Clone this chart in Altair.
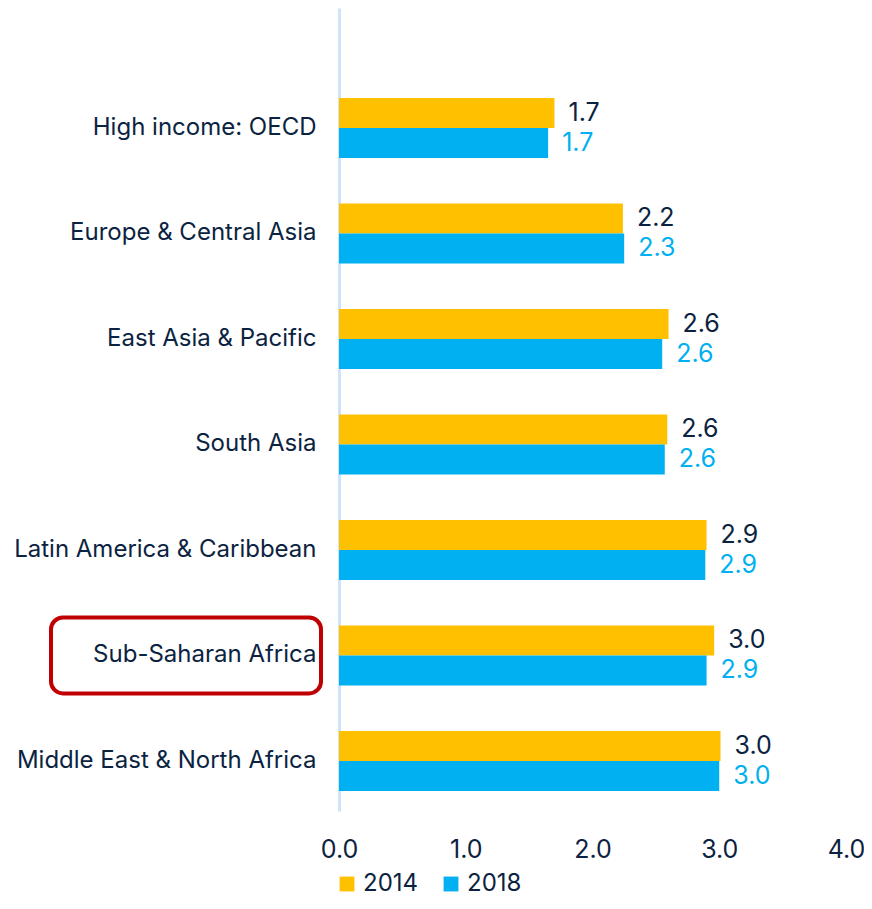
import altair as alt
import pandas as pd

regions = [
    "High income: OECD",
    "Europe & Central Asia",
    "East Asia & Pacific",
    "South Asia",
    "Latin America & Caribbean",
    "Sub-Saharan Africa",
    "Middle East & North Africa",
]
years = ["2014", "2018"]
values_2014 = [1.70, 2.24, 2.60, 2.59, 2.90, 2.96, 3.01]
values_2018 = [1.65, 2.25, 2.55, 2.57, 2.89, 2.90, 3.00]
labels_2014 = ["1.7", "2.2", "2.6", "2.6", "2.9", "3.0", "3.0"]
labels_2018 = ["1.7", "2.3", "2.6", "2.6", "2.9", "2.9", "3.0"]
highlight = ["Sub-Saharan Africa"]

NAVY = "#0b2341"
GOLD = "#ffc000"
BLUE = "#00b0f0"
FONT = "Inter"
FS = 25
FS_Y = 24

rows = []
for r, v, l in zip(regions, values_2014, labels_2014):
    rows.append({"region": r, "year": "2014", "value": v, "label": l})
for r, v, l in zip(regions, values_2018, labels_2018):
    rows.append({"region": r, "year": "2018", "value": v, "label": l})
df = pd.DataFrame(rows)
hl = pd.DataFrame({"region": highlight})

yscale = alt.Scale(domain=regions, paddingInner=0.431, paddingOuter=0.521, align=0.818)
color_scale = alt.Scale(domain=years, range=[GOLD, BLUE])

y_enc = alt.Y(
    "region:N",
    scale=yscale,
    sort=regions,
    title=None,
    axis=alt.Axis(
        labelFont=FONT, labelFontSize=FS_Y, labelColor=NAVY, labelPadding=23,
        ticks=False, domainColor="#cfe3fb", domainWidth=3, labelLimit=400,
    ),
)

bars = alt.Chart(df).mark_bar().encode(
    y=y_enc,
    yOffset=alt.YOffset("year:N", sort=years),
    x=alt.X(
        "value:Q",
        scale=alt.Scale(domain=[0, 4]),
        title=None,
        axis=alt.Axis(
            values=[0, 1, 2, 3, 4], format=".1f", labelFont=FONT, labelFontSize=FS,
            labelColor=NAVY, labelPadding=26, labelFlush=False, ticks=False,
            domain=False, grid=False,
        ),
    ),
    color=alt.Color(
        "year:N",
        scale=color_scale,
        legend=alt.Legend(
            title=None, orient="none", legendX=-4, legendY=864, direction="horizontal",
            symbolType="square", symbolSize=220, labelFont=FONT, labelFontSize=24,
            labelColor=NAVY, columnPadding=20, labelOffset=4,
        ),
    ),
)

text = alt.Chart(df).mark_text(align="left", baseline="middle", dx=14, font=FONT, fontSize=FS).encode(
    y=alt.Y("region:N", scale=yscale, sort=regions),
    yOffset=alt.YOffset("year:N", sort=years),
    x="value:Q",
    text="label:N",
    color=alt.Color("year:N", scale=alt.Scale(domain=years, range=[NAVY, BLUE]), legend=None),
)

box = alt.Chart(hl).mark_bar(
    filled=False, stroke="#c00000", strokeWidth=4, cornerRadius=12, height=76
).encode(
    y=alt.Y("region:N", scale=yscale, sort=regions),
    x=alt.value(-288),
    x2=alt.value(-18),
)

chart = alt.layer(bars, text, box).resolve_scale(color="independent").properties(
    width=507,
    height=803,
    autosize=alt.AutoSizeParams(type="none"),
    padding={"left": 331, "top": 0, "right": 18, "bottom": 90},
).configure(background="white").configure_view(stroke=None, strokeWidth=0)

chart.save("out.html", embed_options={"renderer": "svg", "actions": False})
